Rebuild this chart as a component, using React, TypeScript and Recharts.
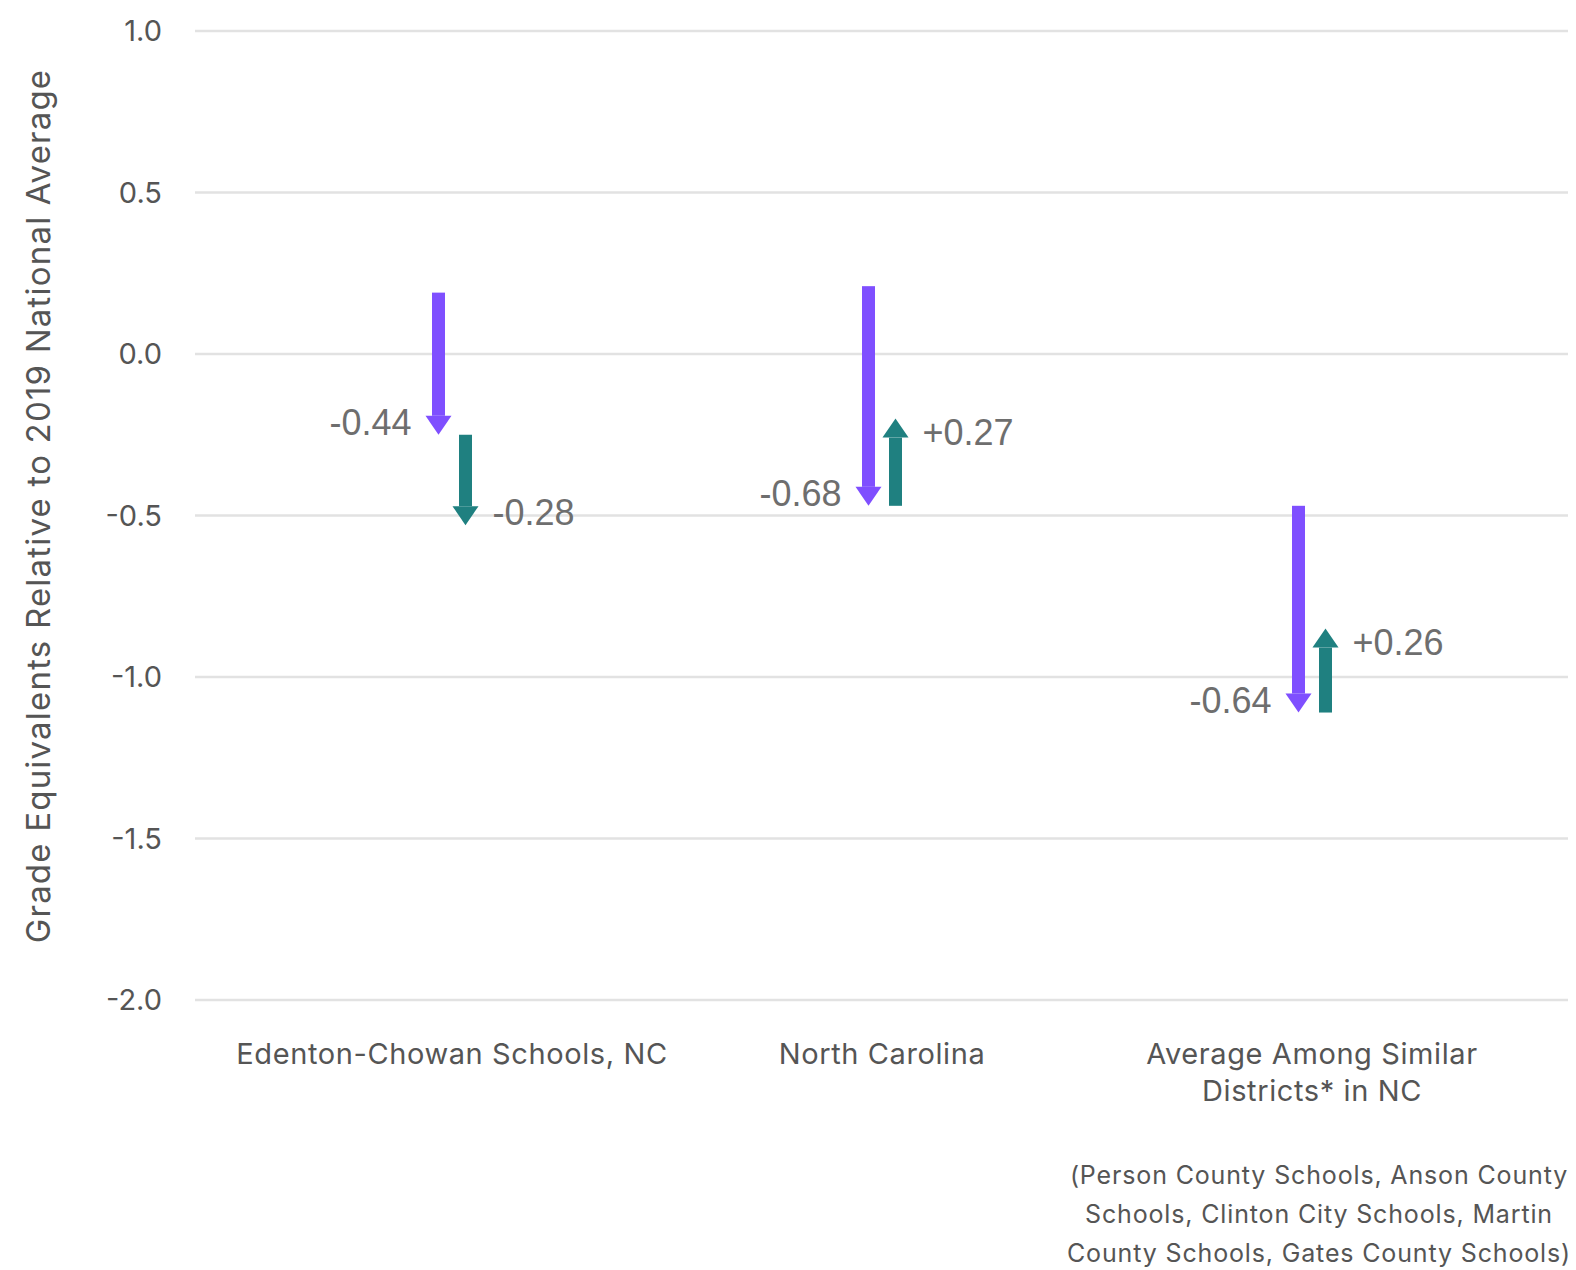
import React from "react";
import { ComposedChart, Bar, XAxis, YAxis, CartesianGrid } from "recharts";

const categories = ["Edenton-Chowan Schools, NC", "North Carolina", "Average Among Similar Districts* in NC"];
const categoryLines = [["Edenton-Chowan Schools, NC"], ["North Carolina"], ["Average Among Similar", "Districts* in NC"]];
const footnoteLines = [
  "(Person County Schools, Anson County",
  "Schools, Clinton City Schools, Martin",
  "County Schools, Gates County Schools)",
];

// starting point, first change (purple), second change (teal)
const startValues = [0.19, 0.21, -0.47];
const firstChange = [-0.44, -0.68, -0.64];
const secondChange = [-0.28, 0.27, 0.26];

const yTicks = [1.0, 0.5, 0.0, -0.5, -1.0, -1.5, -2.0];

const PURPLE = "#7f4fff";
const TEAL = "#1f8080";
const FONT = "Inter, 'Liberation Sans', sans-serif";

const data = categories.map((name, i) => {
  const mid = startValues[i] + firstChange[i];
  const end = mid + secondChange[i];
  return {
    name,
    drop: [startValues[i], mid],
    rebound: [mid, end],
    firstChange: firstChange[i],
    secondChange: secondChange[i],
  };
});

const fmt = (v: number) => (v > 0 ? "+" : "") + v.toFixed(2);

const makeArrow = (color: string, changeKey: string, side: "left" | "right") => (props: any) => {
  const { x, y, width, height, payload } = props;
  const top = Math.min(y, y + height);
  const bottom = Math.max(y, y + height);
  const cx = x + width / 2;
  const change = payload[changeKey];
  const down = change < 0;
  const headH = 19;
  const headW = 26;
  const tipY = down ? bottom : top;
  const labelY = down ? tipY : tipY + 26;
  return (
    <g>
      {down ? (
        <>
          <rect x={x} y={top} width={width} height={bottom - headH - top} fill={color} />
          <polygon points={`${cx - headW / 2},${bottom - headH} ${cx + headW / 2},${bottom - headH} ${cx},${bottom}`} fill={color} />
        </>
      ) : (
        <>
          <rect x={x} y={top + headH} width={width} height={bottom - top - headH} fill={color} />
          <polygon points={`${cx - headW / 2},${top + headH} ${cx + headW / 2},${top + headH} ${cx},${top}`} fill={color} />
        </>
      )}
      <text
        x={side === "left" ? cx - 27 : cx + 27}
        y={labelY}
        textAnchor={side === "left" ? "end" : "start"}
        fontSize={36}
        fontFamily="'Liberation Sans', Arial, sans-serif"
        fill="#6e6e6e"
      >
        {fmt(change)}
      </text>
    </g>
  );
};

const CategoryTick = (props: any) => {
  const { x, y, index } = props;
  const lines = categoryLines[index] || [];
  return (
    <g>
      {lines.map((l, i) => (
        <text key={i} x={x} y={y + 64 + i * 37} textAnchor="middle" fontSize={29} letterSpacing={0.6} fontFamily={FONT} fill="#555">
          {l}
        </text>
      ))}
      {index === 2 &&
        footnoteLines.map((l, i) => (
          <text key={"f" + i} x={x + 7} y={y + 184 + i * 39} textAnchor="middle" fontSize={25} letterSpacing={0.85} fontFamily={FONT} fill="#555">
            {l}
          </text>
        ))}
    </g>
  );
};

const AxisTitle = () => (
  <text
    x={38}
    y={506}
    transform="rotate(-90, 38, 506)"
    textAnchor="middle"
    dominantBaseline="central"
    fontSize={33}
    letterSpacing={1.2}
    fontFamily={FONT}
    fill="#555"
  >
    Grade Equivalents Relative to 2019 National Average
  </text>
);

export default function App() {
  return (
    <div style={{ position: "absolute", left: 0, top: 0 }}>
      <ComposedChart
        width={1576}
        height={1270}
        data={data}
        margin={{ top: 31, right: 8, bottom: 0, left: 0 }}
        barSize={13}
        barGap={14}
      >
        <CartesianGrid horizontal vertical={false} stroke="#e2e2e2" strokeWidth={2.5} />
        <XAxis
          dataKey="name"
          height={270}
          axisLine={false}
          tickLine={false}
          tickSize={0}
          tickMargin={0}
          padding={{ left: 42, right: 41 }}
          interval={0}
          tick={<CategoryTick />}
        />
        <YAxis
          type="number"
          domain={[-2, 1]}
          ticks={yTicks}
          width={195}
          axisLine={false}
          tickLine={false}
          tickSize={0}
          tickMargin={33}
          tickFormatter={(v: number) => v.toFixed(1)}
          tick={{ fontSize: 29, fill: "#555", fontFamily: FONT }}
          label={{ content: () => <AxisTitle /> }}
        />
        <Bar dataKey="drop" fill={PURPLE} isAnimationActive={false} shape={makeArrow(PURPLE, "firstChange", "left")} />
        <Bar dataKey="rebound" fill={TEAL} isAnimationActive={false} shape={makeArrow(TEAL, "secondChange", "right")} />
      </ComposedChart>
    </div>
  );
}
